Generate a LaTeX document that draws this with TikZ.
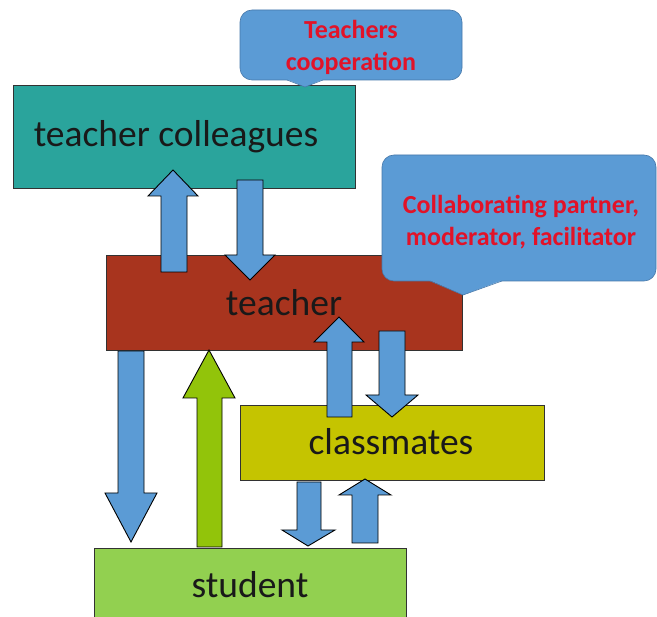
\documentclass[tikz,border=0pt]{standalone}
\usepackage{fontspec}
\setmainfont{Carlito}
\definecolor{teal1}{RGB}{42,164,156}
\definecolor{brick}{RGB}{168,52,30}
\definecolor{olive1}{RGB}{197,196,0}
\definecolor{lgreen}{RGB}{146,208,80}
\definecolor{ablue}{RGB}{91,155,213}
\definecolor{agreen}{RGB}{146,196,10}
\definecolor{cred}{RGB}{226,18,40}
\definecolor{edge}{RGB}{50,50,50}
\definecolor{cedge}{RGB}{70,120,170}
\tikzset{
  box/.style={draw=edge, line width=0.8pt},
  blockarrow/.style={draw=black, line width=0.9pt, line join=miter, fill=ablue},
  callout/.style={fill=ablue, draw=cedge, line width=0.6pt, rounded corners=12pt},
  lbl/.style={font=\fontsize{37.5}{40}\selectfont, text=black!90},
  ctext/.style={font=\fontsize{26}{32}\selectfont\bfseries, text=cred, align=center}
}
\begin{document}
\begin{tikzpicture}[x=1pt,y=-1pt]
\useasboundingbox (0,0) rectangle (657,617);
\fill[white] (0,0) rectangle (657,617);
% boxes
\filldraw[box, fill=teal1] (13,85) rectangle (355,188);
\node[lbl] (colleagues) at (176,137) {teacher colleagues};
\filldraw[box, fill=brick] (106,255) rectangle (462,350);
\node[lbl] (teacher) at (284,303) {teacher};
\filldraw[box, fill=olive1] (240,405) rectangle (544,480);
\node[lbl] (classmates) at (391,442) {classmates};
\filldraw[box, fill=lgreen] (94,548) rectangle (406,630);
\node[lbl] (student) at (250,585) {student};
% arrows teacher <-> colleagues
\filldraw[blockarrow] (161,272) -- (161,196) -- (148,196) -- (173,170) -- (198,196) -- (187,196) -- (187,272) -- cycle;
\filldraw[blockarrow] (237,180) -- (237,255) -- (225,255) -- (250,280) -- (275,255) -- (263,255) -- (263,180) -- cycle;
% teacher <-> classmates
\filldraw[blockarrow] (327,417) -- (327,342) -- (314,342) -- (339,317) -- (364,342) -- (352,342) -- (352,417) -- cycle;
\filldraw[blockarrow] (379,331) -- (379,395) -- (366,395) -- (392,417) -- (418,395) -- (405,395) -- (405,331) -- cycle;
% teacher -> student
\filldraw[blockarrow] (118,351) -- (118,493) -- (105,493) -- (131,542) -- (157,493) -- (144,493) -- (144,351) -- cycle;
% student -> teacher (green)
\filldraw[blockarrow, fill=agreen] (197,547) -- (197,398) -- (183,398) -- (209,350) -- (235,398) -- (222,398) -- (222,547) -- cycle;
% classmates <-> student
\filldraw[blockarrow] (297,482) -- (297,530) -- (282,530) -- (308,546) -- (335,530) -- (321,530) -- (321,482) -- cycle;
\filldraw[blockarrow] (352,543) -- (352,495) -- (339,495) -- (365,479) -- (391,495) -- (378,495) -- (378,543) -- cycle;
% callout 1
\filldraw[callout] (240,10) rectangle (462,80);
\fill[ablue] (286,79) -- (305,87) -- (324,79) -- cycle;
\draw[cedge, line width=0.6pt] (287,80) -- (305,87) -- (323,80);
\node[ctext] (coop) at (351,47) {Teachers\\cooperation};
% callout 2
\filldraw[callout] (382,155) rectangle (656,281);
\fill[ablue] (429,280) -- (463,295) -- (503,280) -- cycle;
\draw[cedge, line width=0.6pt] (430,281) -- (463,295) -- (502,281);
\node[ctext] (partner) at (521,222) {Collaborating partner,\\moderator, facilitator};
\end{tikzpicture}
\end{document}
